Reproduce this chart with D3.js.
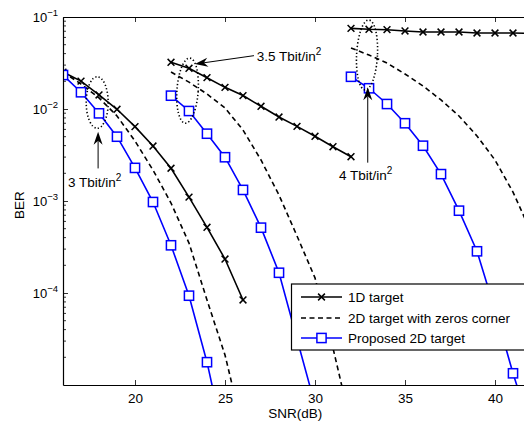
<!DOCTYPE html>
<html><head><meta charset="utf-8">
<script src="https://cdn.jsdelivr.net/npm/d3@7/dist/d3.min.js"></script>
<style>
body{margin:0;background:#fff;}
svg{display:block;font-family:"Liberation Sans",Arial,Helvetica,sans-serif;}
</style></head><body>
<svg id="c" width="524" height="422"></svg>
<script>
// ---- data ----
const snr3T_1D   = [16,17,18,19,20,21,22,23,24,25,26];
const ber3T_1D   = [0.0252,0.0201,0.0142,0.00993,0.00643,0.00396,0.00227,0.0011,0.000518,0.000234,8.4e-5];
const snr3T_zc   = [16,17,18,19,20,21,22,23,24,25,26];
const ber3T_zc   = [0.0252,0.0187,0.0132,0.0084,0.00449,0.00217,0.000951,0.000349,8.39e-5,2.12e-5,3.24e-6];
const snr3T_prop = [16,17,18,19,20,21,22,23,24,25];
const ber3T_prop = [0.0234,0.0152,0.00897,0.0050,0.00229,0.000975,0.00033,9.35e-5,1.77e-5,2.3e-6];

const snr35T_1D   = [22,23,24,25,26,27,28,29,30,31,32];
const ber35T_1D   = [0.0322,0.0277,0.0219,0.0172,0.0140,0.0107,0.00818,0.00648,0.00505,0.00389,0.00303];
const snr35T_zc   = [22,23,24,25,26,27,28,29,30,31,32];
const ber35T_zc   = [0.0252,0.0196,0.01455,0.01026,0.00591,0.00279,0.00116,0.000417,0.000146,2.52e-5,3.67e-6];
const snr35T_prop = [22,23,24,25,26,27,28,29,30];
const ber35T_prop = [0.01396,0.00951,0.00539,0.00299,0.00132,0.000513,0.000166,3.16e-5,6.1e-6];

const snr4T_1D   = [32,33,34,35,36,37,38,39,40,41,42];
const ber4T_1D   = [0.0753,0.0735,0.0728,0.0705,0.0687,0.0687,0.0687,0.067,0.067,0.067,0.0662];
const snr4T_zc   = [32,33,34,35,36,37,38,39,40,41,42];
const ber4T_zc   = [0.046,0.0386,0.0316,0.024,0.0178,0.01253,0.0084,0.00509,0.00279,0.00125,0.00046];
const snr4T_prop = [32,33,34,35,36,37,38,39,40,41,42];
const ber4T_prop = [0.0224,0.0168,0.01133,0.0070,0.00399,0.00196,0.000785,0.000284,6.53e-5,1.34e-5,3.24e-6];

const xTicks = [20,25,30,35,40];
const yTickExps = [-1,-2,-3,-4];
const legendLabels = ["1D target","2D target with zeros corner","Proposed 2D target"];
const densityLabels = ["3 Tbit/in","3.5 Tbit/in","4 Tbit/in"];

// ---- layout ----
const svg = d3.select("#c");
const L=63, T=17, B=385, R=531;
const x = d3.scaleLinear().domain([16,42]).range([L,R]);
const y = d3.scaleLog().domain([1e-5,1e-1]).range([B,T]);
const BLUE="#0000ff";
const font = 13.5;

svg.append("defs").append("clipPath").attr("id","clip")
  .append("rect").attr("x",L).attr("y",T).attr("width",R-L).attr("height",B-T);
const plot = svg.append("g").attr("clip-path","url(#clip)");

const zip=(a,b)=>a.map((v,i)=>[v,b[i]]);
const line = d3.line().x(d=>x(d[0])).y(d=>y(d[1]));

const series = [
  {d:zip(snr3T_1D,ber3T_1D), type:"1D"},
  {d:zip(snr35T_1D,ber35T_1D), type:"1D"},
  {d:zip(snr4T_1D,ber4T_1D), type:"1D"},
  {d:zip(snr3T_zc,ber3T_zc), type:"zc"},
  {d:zip(snr35T_zc,ber35T_zc), type:"zc"},
  {d:zip(snr4T_zc,ber4T_zc), type:"zc"},
  {d:zip(snr3T_prop,ber3T_prop), type:"prop"},
  {d:zip(snr35T_prop,ber35T_prop), type:"prop"},
  {d:zip(snr4T_prop,ber4T_prop), type:"prop"},
];

function crossPath(cx,cy,s){return `M${cx-s},${cy-s}L${cx+s},${cy+s}M${cx-s},${cy+s}L${cx+s},${cy-s}`;}

series.forEach(s=>{
  const p = plot.append("path").attr("d",line(s.d)).attr("fill","none");
  if(s.type==="1D") p.attr("stroke","#000").attr("stroke-width",1.6);
  if(s.type==="zc") p.attr("stroke","#000").attr("stroke-width",1.6).attr("stroke-dasharray","5,3.5");
  if(s.type==="prop") p.attr("stroke",BLUE).attr("stroke-width",1.6);
});
series.forEach(s=>{
  if(s.type==="1D"){
    plot.selectAll(null).data(s.d).enter().append("path")
      .attr("d",d=>crossPath(x(d[0]),y(d[1]),3.4)).attr("stroke","#000").attr("stroke-width",1.5);
  }
  if(s.type==="prop"){
    plot.selectAll(null).data(s.d).enter().append("rect")
      .attr("x",d=>x(d[0])-4.6).attr("y",d=>y(d[1])-4.6).attr("width",9.2).attr("height",9.2)
      .attr("fill","#fff").attr("stroke",BLUE).attr("stroke-width",1.5);
  }
});

// ---- annotations (positions in data units) ----
const ellipses = [
  {snr:17.9, top:0.0224, bot:0.00617, hw:0.61, rot:0},
  {snr:22.92, top:0.0358, bot:0.0070, hw:0.59, rot:4},
  {snr:32.89, top:0.0928, bot:0.0161, hw:0.58, rot:3},
];
ellipses.forEach(e=>{
  const cx=x(e.snr), y1=y(e.top), y2=y(e.bot), cy=(y1+y2)/2;
  svg.append("ellipse").attr("cx",cx).attr("cy",cy).attr("rx",e.hw*(x(1)-x(0))).attr("ry",(y2-y1)/2)
    .attr("transform",`rotate(${e.rot},${cx},${cy})`)
    .attr("fill","none").attr("stroke","#000").attr("stroke-width",1.6).attr("stroke-dasharray","1.3,2.2");
});
const arrows = [
  {from:[17.95,0.00226], to:[17.95,0.00566]},
  {from:[26.61,0.0380], to:[23.33,0.0308]},
  {from:[32.93,0.00261], to:[32.93,0.0172]},
];
arrows.forEach(a=>{
  const x1=x(a.from[0]), y1=y(a.from[1]), x2=x(a.to[0]), y2=y(a.to[1]);
  const ang=Math.atan2(y2-y1,x2-x1), len=13, w=4.5;
  const ux=Math.cos(ang), uy=Math.sin(ang), nx=-uy, ny=ux;
  const bx=x2-ux*len, by=y2-uy*len;
  svg.append("line").attr("x1",x1).attr("y1",y1).attr("x2",bx+ux*4).attr("y2",by+uy*4)
    .attr("stroke","#000").attr("stroke-width",1);
  svg.append("path").attr("d",`M${x2},${y2}L${bx+nx*w},${by+ny*w}L${bx+ux*4},${by+uy*4}L${bx-nx*w},${by-ny*w}Z`)
    .attr("fill","#000");
});
const notes = [
  {snr:16.28, ber:0.00143, t:densityLabels[0]},
  {snr:26.76, ber:0.0335, t:densityLabels[1]},
  {snr:31.33, ber:0.00169, t:densityLabels[2]},
];
notes.forEach(n=>{
  const t=svg.append("text").attr("x",x(n.snr)).attr("y",y(n.ber)).attr("font-size",font).attr("fill","#000");
  t.append("tspan").text(n.t);
  t.append("tspan").attr("dy",-6).attr("font-size",10).text("2");
});

// ---- legend ----
const lg = svg.append("g");
lg.append("rect").attr("x",291.5).attr("y",284).attr("width",260).attr("height",66)
  .attr("fill","#fff").attr("stroke","#000").attr("stroke-width",1.2);
const rows=[297,318,338];
legendLabels.forEach((lab,i)=>{
  const ry=rows[i];
  const l=lg.append("line").attr("x1",301).attr("x2",342).attr("y1",ry).attr("y2",ry).attr("stroke-width",1.6);
  if(i===0){l.attr("stroke","#000"); lg.append("path").attr("d",crossPath(321.5,ry,3.4)).attr("stroke","#000").attr("stroke-width",1.5);}
  if(i===1){l.attr("stroke","#000").attr("stroke-dasharray","5,3.5");}
  if(i===2){l.attr("stroke",BLUE); lg.append("rect").attr("x",321.5-4.6).attr("y",ry-4.6).attr("width",9.2).attr("height",9.2).attr("fill","#fff").attr("stroke",BLUE).attr("stroke-width",1.5);}
  lg.append("text").attr("x",348).attr("y",ry+5).attr("font-size",font).text(lab);
});

// ---- axes ----
const axB = svg.append("g").attr("transform",`translate(0,${B})`)
  .call(d3.axisBottom(x).tickValues(xTicks).tickSizeInner(-5).tickSizeOuter(0).tickPadding(8));
const axT = svg.append("g").attr("transform",`translate(0,${T})`)
  .call(d3.axisTop(x).tickValues(xTicks).tickSizeInner(-5).tickSizeOuter(0).tickFormat(""));
const axL = svg.append("g").attr("transform",`translate(${L},0)`)
  .call(d3.axisLeft(y).tickValues(yTickExps.map(e=>Math.pow(10,e))).tickSizeInner(-5).tickSizeOuter(0).tickFormat(""));
[axB,axT,axL].forEach(a=>{
  a.select(".domain").attr("stroke","#000").attr("stroke-width",1.2);
  a.selectAll(".tick line").attr("stroke","#000").attr("stroke-width",0.8);
  a.selectAll("text").attr("font-size",font).attr("font-family","Liberation Sans, Arial, sans-serif").attr("fill","#000");
});
// minor y ticks
const minors=[];
for(let e=-5;e<-1;e++) for(let k=2;k<=9;k++) minors.push(k*Math.pow(10,e));
svg.append("g").selectAll("line").data(minors).enter().append("line")
  .attr("x1",L).attr("x2",L+3).attr("y1",d=>y(d)).attr("y2",d=>y(d)).attr("stroke","#000").attr("stroke-width",0.8);
// y tick labels
yTickExps.forEach(e=>{
  const t=svg.append("text").attr("x",L-5).attr("y",y(Math.pow(10,e))+4.5).attr("text-anchor","end").attr("font-size",13);
  t.append("tspan").text("10");
  t.append("tspan").attr("dy",-6).attr("font-size",9.5).text("\u2212"+(-e));
});
// axis titles
svg.append("text").attr("x",x(28.9)).attr("y",418).attr("text-anchor","middle").attr("font-size",font).text("SNR(dB)");
svg.append("text").attr("transform",`translate(24,${y(0.0009)}) rotate(-90)`).attr("text-anchor","middle").attr("font-size",font).text("BER");
</script></body></html>
